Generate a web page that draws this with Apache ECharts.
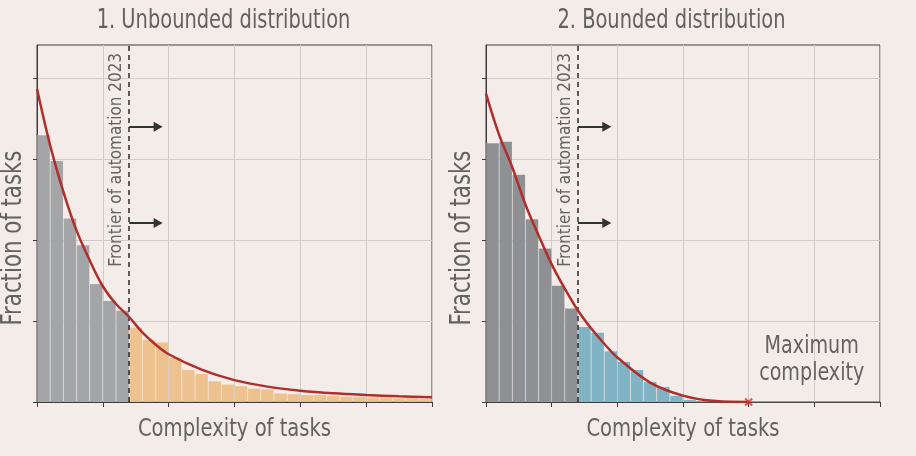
<!DOCTYPE html>
<html><head><meta charset="utf-8">
<script src="https://cdn.jsdelivr.net/npm/echarts@6/dist/echarts.min.js"></script>
<style>html,body{margin:0;padding:0;background:#f4ece8}#c{width:916px;height:456px}</style>
</head><body><div id="c"></div>
<script>
// ---------------- data ----------------
const panelTitles = ['1. Unbounded distribution', '2. Bounded distribution'];
const xAxisName = 'Complexity of tasks';
const yAxisName = 'Fraction of tasks';
const frontierLabel = 'Frontier of automation 2023';
const maxLabel = 'Maximum\ncomplexity';

const binStarts = ['0.0','0.2','0.4','0.6','0.8','1.0','1.2','1.4','1.6','1.8',
                   '2.0','2.2','2.4','2.6','2.8','3.0','3.2','3.4','3.6','3.8',
                   '4.0','4.2','4.4','4.6','4.8','5.0','5.2','5.4','5.6','5.8'];
const unboundedBins = [3.30, 2.98, 2.27, 1.94, 1.46, 1.25, 1.13, 0.92, 0.77, 0.74,
                       0.55, 0.40, 0.35, 0.26, 0.22, 0.20, 0.17, 0.16, 0.11, 0.10,
                       0.09, 0.09, 0.08, 0.07, 0.07, 0.06, 0.06, 0.05, 0.05, 0.04];
const boundedBins   = [3.20, 3.22, 2.81, 2.26, 1.90, 1.44, 1.16, 0.93, 0.86, 0.63,
                       0.50, 0.40, 0.25, 0.19, 0.08, 0.03, 0, 0, 0, 0,
                       0, 0, 0, 0, 0, 0, 0, 0, 0, 0];
const automatedBinCount = 7;

const unboundedCurveX = [0, 0.2, 0.4, 0.6, 0.8, 1.0, 1.2, 1.4, 1.6, 1.8, 2.0, 2.5, 3.0, 3.5, 4.0, 4.5, 5.0, 5.5, 6.0];
const unboundedCurveY = [3.87, 3.17, 2.60, 2.12, 1.75, 1.43, 1.21, 1.05, 0.86, 0.71, 0.59, 0.40, 0.27, 0.19, 0.14, 0.107, 0.086, 0.07, 0.058];
const boundedCurveX = [0, 0.2, 0.4, 0.6, 0.8, 1.0, 1.2, 1.4, 1.6, 1.8, 2.0, 2.5, 3.0, 3.5, 4.0];
const boundedCurveY = [3.81, 3.30, 2.90, 2.44, 2.06, 1.70, 1.40, 1.13, 0.91, 0.72, 0.55, 0.24, 0.079, 0.011, 0];

const frontier = 1.4;
const arrowLevels = [3.40, 2.21];
const arrowEnd = 1.84;
const maxComplexity = 4;
const xTicks = [0, 6, 1];      // min, max, interval
const yTicks = [0, 4.41, 1];   // min, max, interval
const yTickValues = [0, 1, 2, 3, 4];

// ---------------- style ----------------
const C = {bg:'#f4ece8', grid:'#cfcccb', axis:'#3c3c3c', text:'#626262', red:'#b02e2b',
           grayL:'#a3a5a7', grayR:'#8e9093', orange:'#eec28f', blue:'#80b3c3', dash:'#2a2a2a'};
const FONT = "'Liberation Sans Narrow','DejaVu Sans Condensed','Roboto Condensed',sans-serif";

const grids = [
  {left:37, top:45, width:395, height:357},
  {left:486, top:45, width:394, height:357}
];

const chart = echarts.init(document.getElementById('c'), null, {renderer:'canvas'});

function xValueAxis(i){
  return {type:'value', gridIndex:i, min:xTicks[0], max:xTicks[1], interval:xTicks[2],
    axisLine:{show:true, onZero:false, lineStyle:{color:C.axis, width:1}},
    axisTick:{show:true, length:5, lineStyle:{color:C.axis}},
    axisLabel:{show:false},
    splitLine:{show:true, lineStyle:{color:C.grid, width:1}}};
}
function xCatAxis(i){
  return {type:'category', gridIndex:i, data:binStarts, show:false, boundaryGap:true};
}
function yAxis(i){
  return {type:'value', gridIndex:i, min:yTicks[0], max:yTicks[1], interval:yTicks[2],
    axisLine:{show:true, onZero:false, lineStyle:{color:C.axis, width:1}},
    axisTick:{show:true, length:4, customValues:yTickValues, lineStyle:{color:C.axis}},
    axisLabel:{show:false},
    splitLine:{show:true, lineStyle:{color:C.grid, width:1}}};
}
function bars(i, vals, gray, rest){
  return {type:'bar', xAxisIndex:i*2+1, yAxisIndex:i, silent:true, z:2,
    barWidth:'100%', barCategoryGap:'0%',
    itemStyle:{borderColor:'rgba(255,255,255,0.14)', borderWidth:0.6},
    data: vals.map((v,k)=>({value:v, itemStyle:{color: k<automatedBinCount ? gray : rest}}))};
}
function curve(i, xs, ys){
  return {type:'line', xAxisIndex:i*2, yAxisIndex:i, silent:true, z:5,
    data: xs.map((x,k)=>[x, ys[k]]), smooth:0.35, showSymbol:false,
    lineStyle:{color:C.red, width:2.5},
    markLine:{silent:true, symbol:['none','none'], label:{show:false}, animation:false,
      lineStyle:{type:[5,4], color:C.dash, width:1.5}, data:[{xAxis:frontier}]}};
}
function arrows(i){
  return {type:'line', xAxisIndex:i*2, yAxisIndex:i, data:[], silent:true, z:6,
    markLine:{silent:true, symbol:['none','triangle'], symbolSize:[10,9], label:{show:false}, animation:false,
      lineStyle:{type:'solid', color:'#333', width:2},
      data: arrowLevels.map(y=>[{coord:[frontier, y]},{coord:[arrowEnd, y]}])}};
}

const option = {
  backgroundColor:C.bg,
  animation:false,
  grid: grids.map(g=>Object.assign({show:true, borderColor:C.axis, borderWidth:1, backgroundColor:'transparent'}, g)),
  xAxis:[xValueAxis(0), xCatAxis(0), xValueAxis(1), xCatAxis(1)],
  yAxis:[yAxis(0), yAxis(1)],
  series:[
    bars(0, unboundedBins, C.grayL, C.orange),
    curve(0, unboundedCurveX, unboundedCurveY),
    arrows(0),
    bars(1, boundedBins, C.grayR, C.blue),
    curve(1, boundedCurveX, boundedCurveY),
    arrows(1),
    {type:'scatter', xAxisIndex:2, yAxisIndex:1, z:10, silent:true, clip:false,
     symbol:'path://M0,0L10,10M10,0L0,10', symbolSize:7,
     itemStyle:{color:'none', borderColor:'#d9302a', borderWidth:2},
     data:[[maxComplexity, 0]]}
  ]
};
chart.setOption(option);

// text (condensed look via horizontal scaling), positioned from the axes
function txt(x, y, text, size, scale, rot, align, valign, extra){
  return {type:'text', x, y, rotation:rot||0, scaleX:scale, scaleY:1, silent:true, z:20,
    style:Object.assign({text, fontFamily:FONT, fontSize:size, fill:C.text,
      align:align||'center', verticalAlign:valign||'middle'}, extra||{})};
}
const g = [];
const titleCenters = [223.5, 671.5];
[0,1].forEach(i=>{
  const lineSeries = i===0 ? 1 : 4;
  const gr = grids[i];
  g.push(txt(titleCenters[i], 21, panelTitles[i], 27, 0.8));
  const pMid = chart.convertToPixel({seriesIndex:lineSeries}, [3, 0]);
  g.push(txt(pMid[0], gr.top + gr.height + 27, xAxisName, 25, 0.87));
  g.push(txt(gr.left - 23, 238, yAxisName, 28, 0.846, Math.PI/2));
  const p = chart.convertToPixel({seriesIndex:lineSeries}, [frontier, 0]);
  g.push(txt(p[0]-4, gr.top+8, frontierLabel, 18, 0.94, Math.PI/2, 'right', 'bottom'));
});
const mp = chart.convertToPixel({seriesIndex:4}, [4.96, 0.52]);
g.push(txt(mp[0], mp[1], maxLabel, 25, 0.85, 0, 'center', 'middle', {lineHeight:27}));
chart.setOption({graphic:g});
</script></body></html>
